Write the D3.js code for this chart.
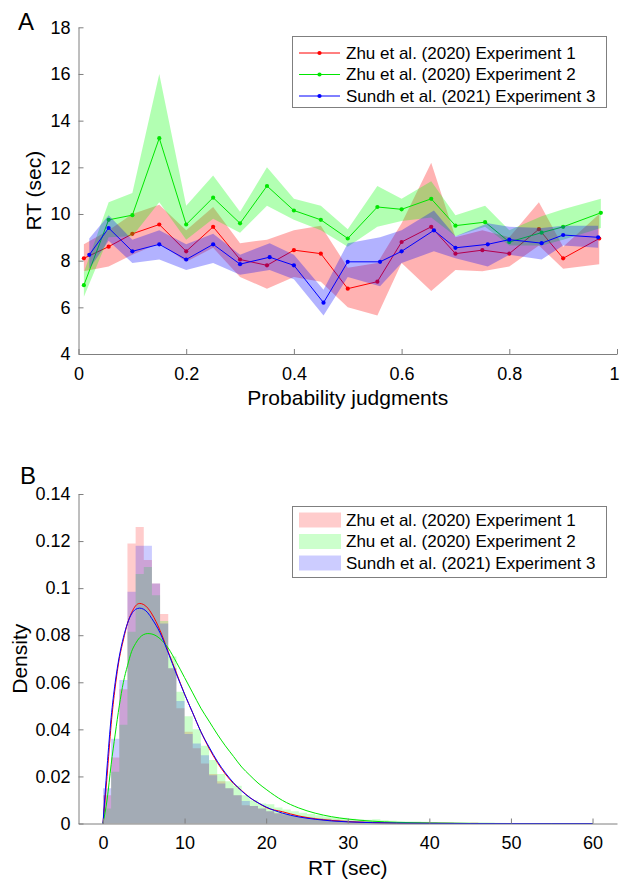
<!DOCTYPE html>
<html><head><meta charset="utf-8">
<script src="https://cdn.jsdelivr.net/npm/d3@7"></script>
<style>body{margin:0;background:#fff} svg{display:block}</style>
</head><body><svg id="c" width="620" height="882"></svg>
<script>
// ---------- Panel A data ----------
const seriesNames = ["Zhu et al. (2020) Experiment 1", "Zhu et al. (2020) Experiment 2", "Sundh et al. (2021) Experiment 3"];
const seriesColors = ["#ff0000", "#00e600", "#0000ff"];
const fillColors = ["#ff0000", "#00ff00", "#0000ff"];

const redX     = [0.01,0.056,0.1,0.15,0.2,0.25,0.3,0.35,0.4,0.45,0.5,0.555,0.6,0.655,0.7,0.75,0.8,0.855,0.9,0.967];
const redMean  = [8.1,8.6,9.15,9.55,8.4,9.45,8.05,7.8,8.45,8.3,6.8,7.1,8.8,9.45,8.3,8.45,8.3,9.35,8.1,8.95];
const redUpper = [8.7,9.3,10.0,10.4,9.3,10.3,8.75,8.9,9.3,9.5,7.7,7.9,9.6,12.2,9.0,9.3,9.0,10.5,8.6,10.0];
const redLower = [7.55,7.75,8.25,8.75,7.95,8.55,7.3,6.8,7.3,7.1,6.0,5.65,7.9,6.7,7.6,7.55,7.75,8.65,7.65,7.85];

const greenX     = [0.01,0.056,0.1,0.15,0.2,0.25,0.3,0.35,0.4,0.45,0.5,0.555,0.6,0.655,0.7,0.755,0.8,0.86,0.9,0.97];
const greenMean  = [6.95,9.75,9.95,13.25,9.55,10.7,9.6,11.2,10.15,9.75,8.95,10.3,10.2,10.65,9.5,9.65,8.8,9.2,9.45,10.05];
const greenUpper = [7.5,10.5,10.9,16.0,10.35,11.65,10.1,12.0,10.65,10.35,9.35,11.2,10.65,11.4,9.95,10.35,9.3,9.9,10.2,10.65];
const greenLower = [6.45,9.0,9.05,10.5,8.9,9.8,9.2,10.35,9.75,9.3,8.6,9.45,9.7,9.85,9.05,9.45,8.65,8.65,8.9,9.4];

const blueX     = [0.02,0.056,0.1,0.15,0.2,0.25,0.3,0.355,0.4,0.455,0.5,0.56,0.6,0.66,0.7,0.76,0.8,0.86,0.9,0.965];
const blueMean  = [8.25,9.4,8.4,8.7,8.05,8.7,7.85,8.15,7.8,6.2,7.95,7.95,8.4,9.3,8.55,8.7,8.9,8.75,9.1,9.0];
const blueUpper = [8.95,9.95,8.9,9.3,8.7,9.15,8.25,8.75,8.25,6.75,8.75,9.0,9.3,10.15,9.05,9.6,9.45,9.4,9.5,9.5];
const blueLower = [7.65,8.85,7.9,8.05,7.6,7.9,7.4,7.6,7.2,5.65,7.3,6.9,7.9,8.4,8.1,7.75,8.25,8.05,8.65,8.55];

const xTicksA = [0,0.2,0.4,0.6,0.8,1];
const yTicksA = [4,6,8,10,12,14,16,18];

// ---------- Panel B data ----------
const binEdges = d3.range(0, 61); // 1-sec bins, 0..60
const histRed = [0.012,0.028,0.057,0.119,0.126,0.112,0.102,0.089,0.066,0.049,0.039,0.032,0.0255,0.021,0.018,0.015,0.012,0.0078,0.0074,0.0064,0.0052,
  0.0045,0.004,0.0035,0.003,0.0026,0.0022,0.002,0.0017,0.0014,0.0012,0.001,0.0009,0.0008,0.0007,0.0006,0.0006,0.0005,0.0004,0.0004,0.0003,
  0.0003,0.0003,0.0002,0.0002,0.0004,0.0002,0.0002,0.0001,0.0001,0.0002,0.0001,0.0001,0.0001,0.0001,0.0001,0.0001,0.0001,0.0001,0.0001];
const histGreen = [0.0064,0.022,0.042,0.0815,0.106,0.109,0.097,0.086,0.071,0.056,0.0456,0.040,0.033,0.027,0.021,0.018,0.016,0.012,0.0099,0.0085,0.0082,
  0.0068,0.006,0.0052,0.0046,0.004,0.0035,0.003,0.0027,0.0024,0.002,0.0018,0.0016,0.0018,0.0014,0.0012,0.001,0.0009,0.0008,0.0007,0.0006,
  0.0005,0.0005,0.0004,0.0004,0.0003,0.0003,0.0003,0.0002,0.0002,0.0002,0.0002,0.0001,0.0001,0.0001,0.0001,0.0001,0.0001,0.0001,0.0002];
const histBlue = [0.015,0.036,0.061,0.0985,0.118,0.118,0.102,0.085,0.066,0.052,0.038,0.034,0.029,0.0205,0.017,0.015,0.012,0.0096,0.0074,0.0064,0.0052,
  0.0042,0.0038,0.0032,0.0028,0.0024,0.002,0.0018,0.0015,0.0013,0.0011,0.001,0.0008,0.0007,0.0006,0.0006,0.0005,0.0004,0.0004,0.0003,0.0003,
  0.0002,0.0002,0.0002,0.0002,0.0001,0.0002,0.0001,0.0001,0.0001,0.0001,0.0001,0.0001,0.0001,0.0001,0.0001,0.0001,0.0001,0.0001,0.0001];

const fitX     = [0,0.5,1,1.5,2,2.5,3,3.5,4,4.5,5,5.5,6,7,8,9,10,11,12,13,14,15,16,17,18,19,20,22,24,26,28,30,33,36,40,45,50,55,60];
const fitRed   = [0,0.02,0.042,0.058,0.07,0.078,0.085,0.0895,0.0925,0.0935,0.093,0.0915,0.089,0.082,0.073,0.064,0.055,0.047,0.039,0.032,0.026,0.021,0.017,0.014,0.011,0.0088,0.0068,0.005,0.0032,0.002,0.0013,0.0008,0.0004,0.0002,0.0001,0,0,0,0];
const fitGreen = [0,0.01,0.025,0.038,0.05,0.06,0.067,0.073,0.0765,0.079,0.0803,0.0807,0.0805,0.0785,0.0745,0.0685,0.062,0.0555,0.049,0.0435,0.038,0.033,0.0285,0.024,0.0205,0.0172,0.0145,0.0098,0.0066,0.0044,0.0029,0.0019,0.001,0.0005,0.0002,0.00005,0,0,0];
const fitBlue  = [0,0.024,0.045,0.06,0.071,0.079,0.085,0.089,0.091,0.0915,0.091,0.0895,0.087,0.081,0.0725,0.0635,0.055,0.047,0.039,0.0325,0.0265,0.0215,0.0173,0.0138,0.011,0.0088,0.007,0.0044,0.0028,0.0018,0.0011,0.0007,0.00035,0.00018,0.00007,0,0,0,0];

const xTicksB = [0,10,20,30,40,50,60];
const yTicksB = [0,0.02,0.04,0.06,0.08,0.1,0.12,0.14];

// ---------- drawing ----------
const FONT = "'Liberation Sans', Arial, Helvetica, sans-serif";
const AXC = "#7f7f7f";
const svg = d3.select("#c").attr("font-family", FONT);

function styleAxis(g, fs) {
  g.attr("font-family", FONT).attr("font-size", fs);
  g.select(".domain").attr("stroke", AXC).attr("stroke-width", 1);
  g.selectAll(".tick line").attr("stroke", AXC);
  g.selectAll(".tick text").attr("fill", "#000");
}

// Panel A
const xA = d3.scaleLinear().domain([0, 1]).range([78.5, 617]);
const yA = d3.scaleLinear().domain([4, 18]).range([354, 27.3]);

const seriesA = [
  {x: redX, m: redMean, u: redUpper, l: redLower},
  {x: greenX, m: greenMean, u: greenUpper, l: greenLower},
  {x: blueX, m: blueMean, u: blueUpper, l: blueLower}
];
const areaA = d3.area().x(d => xA(d.x)).y0(d => yA(d.l)).y1(d => yA(d.u));
const lineA = d3.line().x(d => xA(d.x)).y(d => yA(d.m));
const gA = svg.append("g");
seriesA.forEach((s, i) => {
  const pts = s.x.map((x, k) => ({x, m: s.m[k], u: s.u[k], l: s.l[k]}));
  gA.append("path").attr("d", areaA(pts)).attr("fill", fillColors[i]).attr("fill-opacity", 0.3).attr("stroke", "none");
  gA.append("path").attr("d", lineA(pts)).attr("fill", "none").attr("stroke", seriesColors[i]).attr("stroke-width", 1);
  gA.selectAll(null).data(pts).enter().append("circle")
    .attr("cx", d => xA(d.x)).attr("cy", d => yA(d.m)).attr("r", 2.1).attr("fill", seriesColors[i]);
});

const gxA = svg.append("g").attr("transform", "translate(0,354)")
  .call(d3.axisBottom(xA).tickValues(xTicksA).tickFormat(d3.format("~g")).tickSizeInner(-5).tickSizeOuter(0).tickPadding(13));
styleAxis(gxA, 18);
// keep the last label ("1") inside the picture
gxA.selectAll(".tick text").filter(d => d === 1).attr("text-anchor", "end").attr("x", 2);
const gyA = svg.append("g").attr("transform", "translate(78.5,0)")
  .call(d3.axisLeft(yA).tickValues(yTicksA).tickFormat(d3.format("~g")).tickSizeInner(-5).tickSizeOuter(0).tickPadding(8));
styleAxis(gyA, 18);

svg.append("text").attr("x", 347.75).attr("y", 405).attr("text-anchor", "middle").attr("font-size", 21).text("Probability judgments");
svg.append("text").attr("transform", "translate(41,190.6) rotate(-90)").attr("text-anchor", "middle").attr("font-size", 21).text("RT (sec)");
svg.append("text").attr("x", 18).attr("y", 30).attr("font-size", 24).text("A");

// Legend A
const legA = svg.append("g");
legA.append("rect").attr("x", 292.5).attr("y", 36.5).attr("width", 314).attr("height", 71).attr("fill", "#fff").attr("stroke", AXC);
seriesNames.forEach((n, i) => {
  const cy = 53 + i * 21.5;
  legA.append("line").attr("x1", 299).attr("x2", 340).attr("y1", cy).attr("y2", cy).attr("stroke", seriesColors[i]).attr("stroke-width", 1);
  legA.append("circle").attr("cx", 319.5).attr("cy", cy).attr("r", 2.1).attr("fill", seriesColors[i]);
  legA.append("text").attr("x", 346).attr("y", cy).attr("dy", "0.35em").attr("font-size", 17).text(n);
});

// Panel B
const xB = d3.scaleLinear().domain([-3, 63]).range([78.5, 617]);
const yB = d3.scaleLinear().domain([0, 0.14]).range([823.5, 494]);
const hists = [histRed, histGreen, histBlue];
const fits = [fitRed, fitGreen, fitBlue];
const stepArea = d3.area().curve(d3.curveStepAfter).x(d => xB(d.x)).y0(yB(0)).y1(d => yB(d.v));
const gB = svg.append("g");
hists.forEach((h, i) => {
  const pts = binEdges.map((e, k) => ({x: e, v: k < h.length ? h[k] : h[h.length - 1]}));
  gB.append("path").attr("d", stepArea(pts)).attr("fill", fillColors[i]).attr("fill-opacity", 0.2);
});
const fitLine = d3.line().curve(d3.curveMonotoneX).x(d => xB(d.x)).y(d => yB(d.v));
fits.forEach((f, i) => {
  const pts = fitX.map((x, k) => ({x, v: f[k]}));
  gB.append("path").attr("d", fitLine(pts)).attr("fill", "none").attr("stroke", seriesColors[i]).attr("stroke-width", 1);
});

const gxB = svg.append("g").attr("transform", "translate(0,823.5)")
  .call(d3.axisBottom(xB).tickValues(xTicksB).tickFormat(d3.format("~g")).tickSizeInner(-5).tickSizeOuter(0).tickPadding(13));
styleAxis(gxB, 18);
const gyB = svg.append("g").attr("transform", "translate(78.5,0)")
  .call(d3.axisLeft(yB).tickValues(yTicksB).tickFormat(d3.format("~g")).tickSizeInner(-5).tickSizeOuter(0).tickPadding(8));
styleAxis(gyB, 18);

svg.append("text").attr("x", 347.75).attr("y", 875).attr("text-anchor", "middle").attr("font-size", 21).text("RT (sec)");
svg.append("text").attr("transform", "translate(27,658.75) rotate(-90)").attr("text-anchor", "middle").attr("font-size", 21).text("Density");
svg.append("text").attr("x", 20).attr("y", 484).attr("font-size", 24).text("B");

// Legend B
const legB = svg.append("g");
legB.append("rect").attr("x", 292.5).attr("y", 506.5).attr("width", 314).attr("height", 71).attr("fill", "#fff").attr("stroke", AXC);
seriesNames.forEach((n, i) => {
  const cy = 520 + i * 21.5;
  legB.append("rect").attr("x", 299).attr("y", cy - 7.5).attr("width", 42).attr("height", 15)
    .attr("fill", fillColors[i]).attr("fill-opacity", 0.2);
  legB.append("text").attr("x", 346).attr("y", cy).attr("dy", "0.35em").attr("font-size", 17).text(n);
});
</script></body></html>
